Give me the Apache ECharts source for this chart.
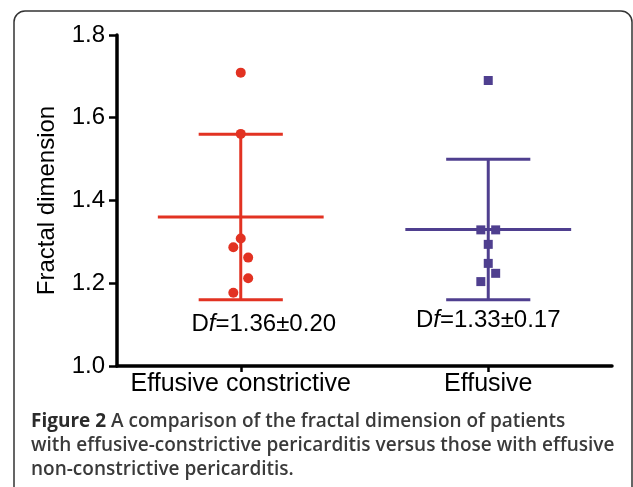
<!DOCTYPE html>
<html>
<head>
<meta charset="utf-8">
<script src="https://cdn.jsdelivr.net/npm/echarts@6/dist/echarts.min.js"></script>
<style>
  html, body { margin: 0; padding: 0; background: #fff; }
  #chart { width: 633px; height: 487px; }
</style>
</head>
<body>
<div id="chart"></div>
<script>
// 兩組：積液縮窄型 / 單純積液型
var groups = ["Effusive constrictive", "Effusive"];
var groupColors = ["#e23222", "#4f3f8f"];

// 各點分形維數與左右錯開（-1 左、0 中、1 右）
var ecValues = [1.709, 1.561, 1.308, 1.287, 1.262, 1.212, 1.177];
var ecJitter = [0, 0, 0, -1, 1, 1, -1];
var efValues = [1.690, 1.329, 1.329, 1.294, 1.248, 1.224, 1.204];
var efJitter = [0, -1, 1, 0, 0, 1, -1];

// 平均 ± SD 與標籤位置（資料座標）
var means = [1.36, 1.33];
var sds = [0.20, 0.17];
var statLabels = ["1.36±0.20", "1.33±0.17"];
var labelX = [0.593, 1.5];
var labelY = [1.101, 1.110];

var yTicks = [1.0, 1.2, 1.4, 1.6, 1.8];
var caption = [
  ["Figure 2", " A comparison of the fractal dimension of patients"],
  ["", "with effusive-constrictive pericarditis versus those with effusive"],
  ["", "non-constrictive pericarditis."]
];

(function () {
  "use strict";
  var chart = echarts.init(document.getElementById("chart"), null, { renderer: "canvas" });
  var JIT = 0.03, MEAN_HW = 0.335, CAP_HW = 0.17;
  var centers = [0.5, 1.5];
  var FONT = "Liberation Sans";

  function pts(vals, jit, gi) {
    return vals.map(function (v, i) { return [centers[gi] + jit[i] * JIT, v]; });
  }

  // 平均線 + 誤差線 + 數值標籤
  function errSeries(gi) {
    return {
      type: "custom", silent: true, z: 2,
      data: [[centers[gi], means[gi], sds[gi], labelX[gi], labelY[gi]]],
      renderItem: function (params, api) {
        var x = api.value(0), m = api.value(1), s = api.value(2);
        var col = groupColors[gi];
        var st = { stroke: col, lineWidth: 3 };
        function seg(x1, y1, x2, y2) {
          var a = api.coord([x1, y1]), b = api.coord([x2, y2]);
          return { type: "line", shape: { x1: a[0], y1: a[1], x2: b[0], y2: b[1] }, style: st };
        }
        var lp = api.coord([api.value(3), api.value(4)]);
        return {
          type: "group",
          children: [
            seg(x - MEAN_HW, m, x + MEAN_HW, m),
            seg(x, m - s, x, m + s),
            seg(x - CAP_HW, m + s, x + CAP_HW, m + s),
            seg(x - CAP_HW, m - s, x + CAP_HW, m - s),
            {
              type: "text", x: lp[0], y: lp[1],
              style: {
                text: "{d|D}{f|f}{d|=" + statLabels[gi] + "}",
                align: "center", verticalAlign: "middle",
                rich: {
                  d: { fontSize: 24, fontFamily: FONT, fill: "#000" },
                  f: { fontSize: 24, fontFamily: FONT, fontStyle: "italic", fill: "#000" }
                }
              }
            }
          ]
        };
      }
    };
  }

  var captionGraphics = caption.map(function (line, i) {
    return {
      type: "text", left: 31, top: 412 + i * 24,
      style: {
        text: (line[0] ? "{b|" + line[0] + "}" : "") + "{n|" + line[1] + "}",
        rich: {
          b: { fontSize: 19, fontWeight: "bold", fontFamily: "Open Sans", fill: "#2b2b2b" },
          n: { fontSize: 19, fontWeight: 600, fontFamily: "Open Sans", fill: "#3a3a3a" }
        }
      }
    };
  });

  chart.setOption({
    animation: false,
    backgroundColor: "#fff",
    grid: { left: 117, right: 21, top: 35, bottom: 121 },
    xAxis: {
      type: "value", min: 0, max: 2,
      splitLine: { show: false },
      axisLine: { show: true, lineStyle: { color: "#000", width: 3.5 } },
      axisTick: { show: true, customValues: centers, length: 6, lineStyle: { color: "#000", width: 2.5 } },
      axisLabel: {
        customValues: centers, margin: 6, color: "#000", fontSize: 25, fontFamily: FONT,
        formatter: function (v) { return groups[Math.round(v - 0.5)]; }
      }
    },
    yAxis: {
      type: "value", min: 1.0, max: 1.8, interval: 0.2,
      name: "Fractal dimension", nameLocation: "middle", nameGap: 58,
      nameTextStyle: { color: "#000", fontSize: 24, fontFamily: FONT },
      splitLine: { show: false },
      axisLine: { show: true, lineStyle: { color: "#000", width: 3.5 } },
      axisTick: { show: true, length: 8, lineStyle: { color: "#000", width: 2.5 } },
      axisLabel: {
        margin: 12, color: "#000", fontSize: 24, fontFamily: FONT,
        customValues: yTicks,
        formatter: function (v) { return v.toFixed(1); }
      }
    },
    graphic: [{
      type: "rect", silent: true, z: -10,
      shape: { x: 14, y: 11, width: 618, height: 520, r: 11 },
      style: { fill: null, stroke: "#333", lineWidth: 1.5 }
    }].concat(captionGraphics),
    series: [
      errSeries(0), errSeries(1),
      {
        type: "scatter", z: 3, symbol: "circle", symbolSize: 10,
        itemStyle: { color: groupColors[0], opacity: 1 },
        data: pts(ecValues, ecJitter, 0)
      },
      {
        type: "scatter", z: 3, symbol: "rect", symbolSize: 9,
        itemStyle: { color: groupColors[1], opacity: 1 },
        data: pts(efValues, efJitter, 1)
      }
    ]
  });
})();
</script>
</body>
</html>
